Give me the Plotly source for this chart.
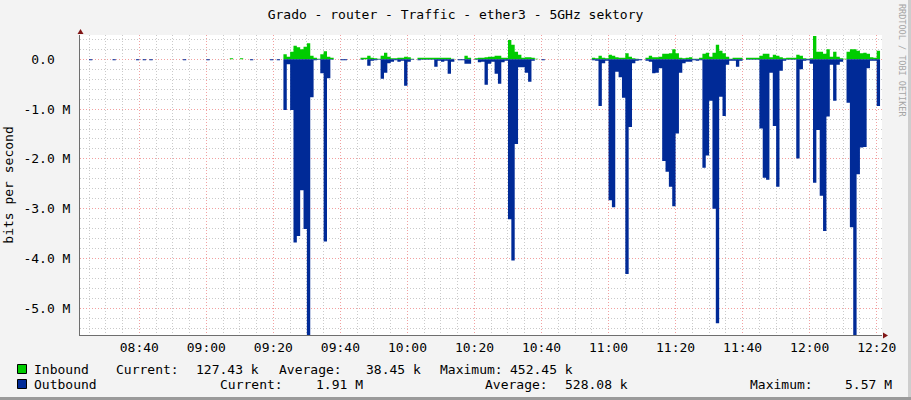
import plotly.graph_objects as go
from datetime import datetime, timedelta

# ---------------- data (Mbit/s, one value per minute from 08:22) ----------------
start_time = datetime(2024, 1, 1, 8, 22)

outbound = [
    # 08:22 - 08:41
    0, 0, 0, -0.02, 0, 0, 0, 0, 0, 0, -0.02, 0, 0, 0, 0, 0, 0, -0.02, 0, -0.02,
    # 08:42 - 09:01
    0, -0.02, 0, 0, 0, 0, 0, 0, 0, 0, 0, -0.02, 0, 0, 0, 0, 0, 0, -0.02, 0,
    # 09:02 - 09:21
    0, 0, 0, 0, 0, 0, 0, 0, 0, 0, 0, -0.02, 0, 0, 0, 0, 0, -0.02, 0, -0.02,
    # 09:22 - 09:41
    0, -1.02, -0.10, -1.02, -3.68, -3.55, -2.63, -3.41, -5.57, -0.76,
    -0.02, -0.01, -0.28, -3.66, -0.38, -0.01, 0, 0, -0.02, -0.02,
    # 09:42 - 10:01
    0, 0, 0, 0, -0.01, 0, -0.13, -0.03, -0.02, -0.01,
    -0.39, -0.27, -0.08, -0.05, -0.02, -0.05, -0.03, -0.53, -0.05, -0.01,
    # 10:02 - 10:21
    0, -0.02, -0.01, -0.01, -0.01, -0.01, -0.15, -0.03, -0.05, -0.03,
    -0.29, -0.05, 0, -0.02, -0.02, -0.09, -0.09, 0, -0.01, -0.06,
    # 10:22 - 10:41
    -0.05, -0.51, -0.09, -0.05, -0.29, -0.49, -0.06, -0.03, -3.21, -4.04,
    -1.70, -0.16, -0.16, -0.27, -0.45, -0.03, 0, 0, -0.02, 0,
    # 10:42 - 11:01
    0, 0, 0, 0, 0, 0, 0, 0, 0, 0,
    0, 0, 0, -0.02, -0.03, -0.94, -0.08, -0.03, -2.83, -2.97,
    # 11:02 - 11:21
    -0.25, -0.36, -0.77, -4.31, -1.36, -0.08, -0.03, -0.02, 0, -0.03,
    -0.05, -0.28, -0.27, -0.18, -2.04, -2.26, -2.56, -2.95, -1.49, -0.27,
    # 11:22 - 11:41
    -0.08, -0.05, -0.05, -0.02, -0.03, -0.02, -2.18, -1.93, -0.83, -3.00,
    -5.30, -0.75, -1.14, -0.11, -0.03, -0.03, -0.15, -0.03, 0, -0.01,
    # 11:42 - 12:01
    -0.01, -0.01, -0.01, -1.39, -2.38, -2.42, -0.27, -1.34, -2.56, -0.23,
    -0.03, -0.01, -0.01, -0.01, -1.99, -0.20, -0.03, -0.02, -0.09, -2.48,
    # 12:02 - 12:21
    -1.42, -2.74, -3.45, -1.15, -0.11, -0.83, -0.11, -0.05, 0, -0.87,
    -3.37, -5.57, -2.31, -1.77, -1.76, -0.18, -0.03, -0.03, -0.94, 0,
]

inbound = [
    # 08:22 - 08:41
    0, 0, 0, 0, 0, 0, 0, 0, 0, 0, 0, 0, 0, 0, 0, 0, 0, 0, 0, 0,
    # 08:42 - 09:01
    0, 0, 0, 0, 0, 0, 0, 0, 0, 0, 0, 0, 0, 0, 0, 0, 0, 0, 0, 0,
    # 09:02 - 09:21
    0, 0, 0, 0, 0, 0.02, 0, 0, 0.02, 0, 0, 0, 0, 0, 0, 0, 0, 0, 0, 0,
    # 09:22 - 09:41
    0, 0.10, 0.05, 0.15, 0.27, 0.24, 0.20, 0.25, 0.32, 0.07,
    0.03, 0.01, 0.10, 0.16, 0.05, 0.03, 0, 0, 0, 0,
    # 09:42 - 10:01
    0, 0, 0, 0, 0.03, 0.03, 0.07, 0.03, 0.02, 0.01,
    0.07, 0.13, 0.05, 0.02, 0.02, 0.03, 0.03, 0.05, 0.04, 0.01,
    # 10:02 - 10:21
    0, 0.03, 0.03, 0.03, 0.03, 0.03, 0.03, 0.03, 0.03, 0.03,
    0.03, 0.01, 0, 0, 0, 0.07, 0.03, 0, 0.02, 0.03,
    # 10:22 - 10:41
    0.03, 0.04, 0.05, 0.05, 0.07, 0.07, 0.03, 0.03, 0.39, 0.29,
    0.15, 0.09, 0.03, 0.04, 0.04, 0.03, 0.01, 0, 0, 0,
    # 10:42 - 11:01
    0, 0, 0, 0, 0, 0, 0, 0, 0, 0,
    0, 0, 0, 0.03, 0.02, 0.07, 0.03, 0.02, 0.09, 0.07,
    # 11:02 - 11:21
    0.04, 0.03, 0.03, 0.12, 0.05, 0.02, 0.01, 0, 0, 0.03,
    0.07, 0.04, 0.04, 0.05, 0.11, 0.11, 0.12, 0.20, 0.12, 0.03,
    # 11:22 - 11:41
    0.02, 0.03, 0.04, 0.01, 0.01, 0.03, 0.11, 0.13, 0.05, 0.13,
    0.29, 0.17, 0.12, 0.05, 0.01, 0.03, 0.03, 0.03, 0, 0.03,
    # 11:42 - 12:01
    0.03, 0.03, 0.03, 0.07, 0.11, 0.11, 0.04, 0.09, 0.07, 0.04,
    0.02, 0.03, 0.03, 0.03, 0.09, 0.07, 0.02, 0.01, 0.02, 0.47,
    # 12:02 - 12:21
    0.15, 0.15, 0.11, 0.20, 0.05, 0.15, 0.05, 0.02, 0.01, 0.15,
    0.20, 0.20, 0.17, 0.12, 0.13, 0.11, 0.04, 0.03, 0.17, 0,
]

series_names = ["Inbound", "Outbound"]
series_colors = ["#00CC00", "#002A97"]
stat_labels = ["Current:", "Average:", "Maximum:"]
inbound_stats = ["127.43 k", "38.45 k", "452.45 k"]
outbound_stats = ["1.91 M", "528.08 k", "5.57 M"]

y_tick_values = [-5, -4, -3, -2, -1, 0]
y_tick_labels = ["-5.0 M", "-4.0 M", "-3.0 M", "-2.0 M", "-1.0 M", "0.0\u00a0\u00a0"]

title_text = "Grado - router - Traffic - ether3 - 5GHz sektory"
y_title = "bits per second"
side_text = "RRDTOOL / TOBI OETIKER"

times = [start_time + timedelta(minutes=i) for i in range(len(outbound))]

# ---------------- figure ----------------
W, H = 911, 400
L, R, T, B = 80, 29, 35, 65
PW, PH = W - L - R, H - T - B


def px(x):
    return (x - L) / PW


def py(y):
    return (H - B - y) / PH


FONT = "DejaVu Sans Mono"
MAJOR = "#F2A0A0"
MINOR = "#CACACA"
DASH = "1px,2px"

fig = go.Figure()
fig.add_trace(go.Scatter(
    x=times, y=inbound, mode="lines", line=dict(width=0, shape="hv"),
    fill="tozeroy", fillcolor=series_colors[0], name=series_names[0],
    hoverinfo="skip"))
fig.add_trace(go.Scatter(
    x=times, y=outbound, mode="lines", line=dict(width=0, shape="hv"),
    fill="tozeroy", fillcolor=series_colors[1], name=series_names[1],
    hoverinfo="skip"))

fig.update_layout(
    width=W, height=H,
    margin=dict(l=L, r=R, t=T, b=B, pad=0, autoexpand=False),
    paper_bgcolor="#F3F3F3", plot_bgcolor="#FFFFFF",
    showlegend=False,
    font=dict(family=FONT, size=13, color="#000000"),
    title=dict(text=title_text, x=0.5, xref="container", xanchor="center",
               y=1 - 14.5 / H, yref="container", yanchor="middle",
               font=dict(family=FONT, size=13, color="#000000")),
)

fig.update_xaxes(
    type="date", automargin=False,
    range=["2024-01-01 08:22:18.6", "2024-01-01 12:21:35"],
    tickmode="linear", tick0="2024-01-01 08:40:00", dtick=20 * 60 * 1000,
    tickformat="%H:%M", ticks="",
    showgrid=True, gridcolor=MAJOR, griddash=DASH, gridwidth=1,
    minor=dict(tick0="2024-01-01 08:40:00", dtick=5 * 60 * 1000,
               showgrid=True, gridcolor=MINOR, griddash=DASH, gridwidth=1),
    showline=True, linecolor="#6E6E6E", linewidth=1,
    zeroline=False, fixedrange=True,
    tickfont=dict(family=FONT, size=13, color="#000000"),
)
fig.update_yaxes(
    automargin=False,
    range=[-5.536, 0.488],
    tickmode="array", tickvals=y_tick_values, ticktext=y_tick_labels,
    ticks="", ticklabelstandoff=6,
    showgrid=True, gridcolor=MAJOR, griddash=DASH, gridwidth=1,
    minor=dict(tick0=0, dtick=0.2, showgrid=True, gridcolor=MINOR,
               griddash=DASH, gridwidth=1),
    showline=True, linecolor="#6E6E6E", linewidth=1,
    zeroline=False, fixedrange=True,
    tickfont=dict(family=FONT, size=13, color="#000000"),
    title=dict(text=y_title, standoff=6,
               font=dict(family=FONT, size=13, color="#000000")),
)

shapes = []
# axis arrows
shapes.append(dict(type="path", xref="paper", yref="paper",
                   path=f"M {px(77.5)} {py(34)} L {px(80.5)} {py(29)} L {px(83.5)} {py(34)} Z",
                   fillcolor="#801515", line=dict(width=0)))
shapes.append(dict(type="path", xref="paper", yref="paper",
                   path=f"M {px(883)} {py(332.5)} L {px(888)} {py(335.5)} L {px(883)} {py(338.5)} Z",
                   fillcolor="#801515", line=dict(width=0)))
# frame shading
shapes.append(dict(type="rect", xref="paper", yref="paper",
                   x0=px(908), x1=px(911), y0=py(400), y1=py(0),
                   fillcolor="#CDCDCD", line=dict(width=0), layer="above"))
shapes.append(dict(type="rect", xref="paper", yref="paper",
                   x0=px(0), x1=px(911), y0=py(400), y1=py(397),
                   fillcolor="#9A9A9A", line=dict(width=0), layer="above"))
# legend swatches
row_y = [369, 384]
for color, yc in zip(series_colors, row_y):
    shapes.append(dict(type="rect", xref="paper", yref="paper",
                       x0=px(17.5), x1=px(26.5), y0=py(yc + 4.5), y1=py(yc - 4.5),
                       fillcolor=color, line=dict(color="#000000", width=1)))

annotations = []


def text_at(txt, x, y, size=13, color="#000000", angle=0, anchor="left"):
    annotations.append(dict(text=txt, x=px(x), y=py(y), xref="paper", yref="paper",
                            xanchor=anchor, yanchor="middle", showarrow=False,
                            textangle=angle,
                            font=dict(family=FONT, size=size, color=color)))


# legend row 1
text_at(series_names[0], 31.5, row_y[0])
for lab, val, xl, xv in zip(stat_labels, inbound_stats, [114, 277, 437.5], [194, 364, 508]):
    text_at(lab, xl, row_y[0])
    text_at(val, xv, row_y[0])
# legend row 2
text_at(series_names[1], 31.5, row_y[1])
for lab, val, xl, xv in zip(stat_labels, outbound_stats, [217.5, 482.5, 747.5], [313.5, 562.5, 843]):
    text_at(lab, xl, row_y[1])
    text_at(val, xv, row_y[1])

# side credit
text_at(side_text, 902, 60, size=8.5, color="#A5A5A5", angle=90, anchor="center")

fig.update_layout(shapes=shapes, annotations=annotations)
fig.write_html("out.html", include_plotlyjs=True, config={"displayModeBar": False},
               post_script="document.body.style.margin='0px';")
